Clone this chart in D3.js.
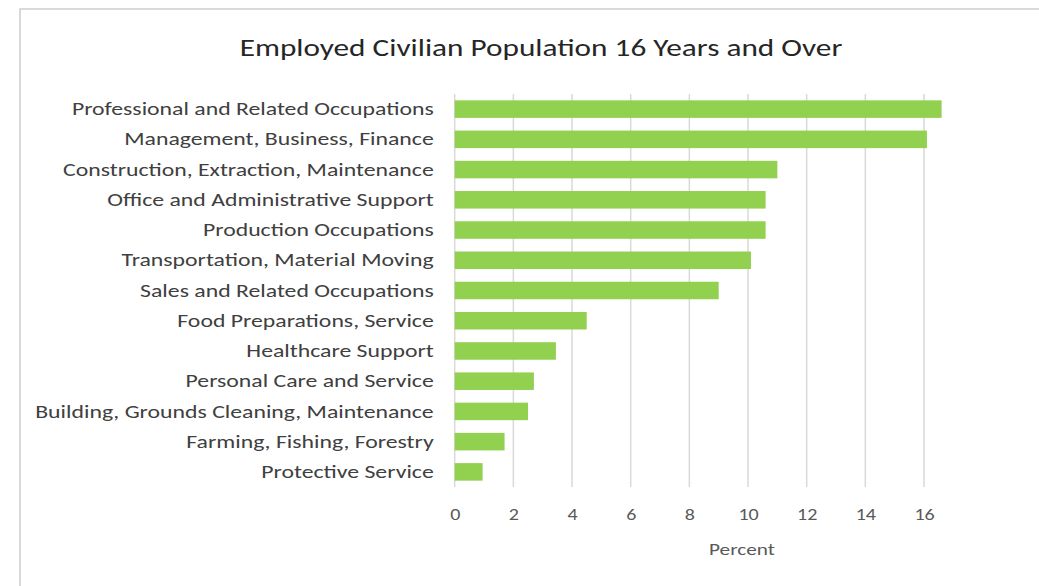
<!DOCTYPE html>
<html>
<head>
<meta charset="utf-8">
<script src="https://cdn.jsdelivr.net/npm/d3@7"></script>
<style>
  html, body { margin: 0; padding: 0; background: #fff; overflow: hidden; }
  svg { display: block; }
  text { font-family: Carlito, Lato, "Open Sans", sans-serif; }
</style>
</head>
<body>
<svg id="chart" width="1039" height="586"></svg>
<script>
const categories = [
  "Professional and Related Occupations",
  "Management, Business, Finance",
  "Construction, Extraction, Maintenance",
  "Office and Administrative Support",
  "Production Occupations",
  "Transportation, Material Moving",
  "Sales and Related Occupations",
  "Food Preparations, Service",
  "Healthcare Support",
  "Personal Care and Service",
  "Building, Grounds Cleaning, Maintenance",
  "Farming, Fishing, Forestry",
  "Protective Service"
];
const values = [16.6, 16.1, 11.0, 10.6, 10.6, 10.1, 9.0, 4.5, 3.45, 2.7, 2.5, 1.7, 0.95];
const xTicks = [0, 2, 4, 6, 8, 10, 12, 14, 16];
const title = "Employed Civilian Population 16 Years and Over";
const xTitle = "Percent";

const svg = d3.select("#chart");
const STRETCH = 1.25; // reference text is horizontally wide

function widen(sel, k) {
  sel.each(function () {
    const w = this.getComputedTextLength();
    d3.select(this).attr("textLength", w * k).attr("lengthAdjust", "spacingAndGlyphs");
  });
}

// chart frame
svg.append("path")
  .attr("d", "M20,1039 V9 H1039")
  .attr("fill", "none")
  .attr("stroke", "#d9d9d9")
  .attr("stroke-width", 2);

const plot = { left: 454.7, right: 924, top: 94, bottom: 487 };

const x = d3.scaleLinear().domain([0, 16]).range([plot.left, plot.right]);
const y = d3.scaleBand().domain(categories).range([plot.top, plot.bottom]).paddingInner(0.42).paddingOuter(0.21);

// gridlines
svg.append("g")
  .selectAll("line")
  .data(xTicks)
  .join("line")
  .attr("x1", d => x(d)).attr("x2", d => x(d))
  .attr("y1", plot.top).attr("y2", plot.bottom)
  .attr("stroke", "#d9d9d9")
  .attr("stroke-width", 1.5);

// bars
svg.append("g")
  .selectAll("rect")
  .data(values)
  .join("rect")
  .attr("x", x(0))
  .attr("y", (d, i) => y(categories[i]))
  .attr("width", d => x(d) - x(0))
  .attr("height", y.bandwidth())
  .attr("fill", "#92d050");

// y axis labels
const yAxis = d3.axisLeft(y).tickSize(0).tickPadding(21);
const yg = svg.append("g").attr("transform", `translate(${plot.left},0)`).call(yAxis);
yg.select(".domain").remove();
yg.selectAll("text")
  .attr("fill", "#404040")
  .style("font-size", "19px")
  .call(widen, STRETCH);

// x axis labels
const xAxis = d3.axisBottom(x).tickValues(xTicks).tickSize(0).tickPadding(22);
const xg = svg.append("g").attr("transform", `translate(0,${plot.bottom})`).call(xAxis);
xg.select(".domain").remove();
xg.selectAll("text")
  .attr("fill", "#595959")
  .style("font-size", "16px")
  .call(widen, STRETCH);

// axis title
svg.append("text")
  .attr("x", 742)
  .attr("y", 555)
  .attr("text-anchor", "middle")
  .attr("fill", "#595959")
  .style("font-size", "17px")
  .text(xTitle)
  .call(widen, STRETCH);

// chart title
svg.append("text")
  .attr("x", 541)
  .attr("y", 56)
  .attr("text-anchor", "middle")
  .attr("fill", "#262626")
  .style("font-size", "25px")
  .text(title)
  .call(widen, STRETCH);
</script>
</body>
</html>
